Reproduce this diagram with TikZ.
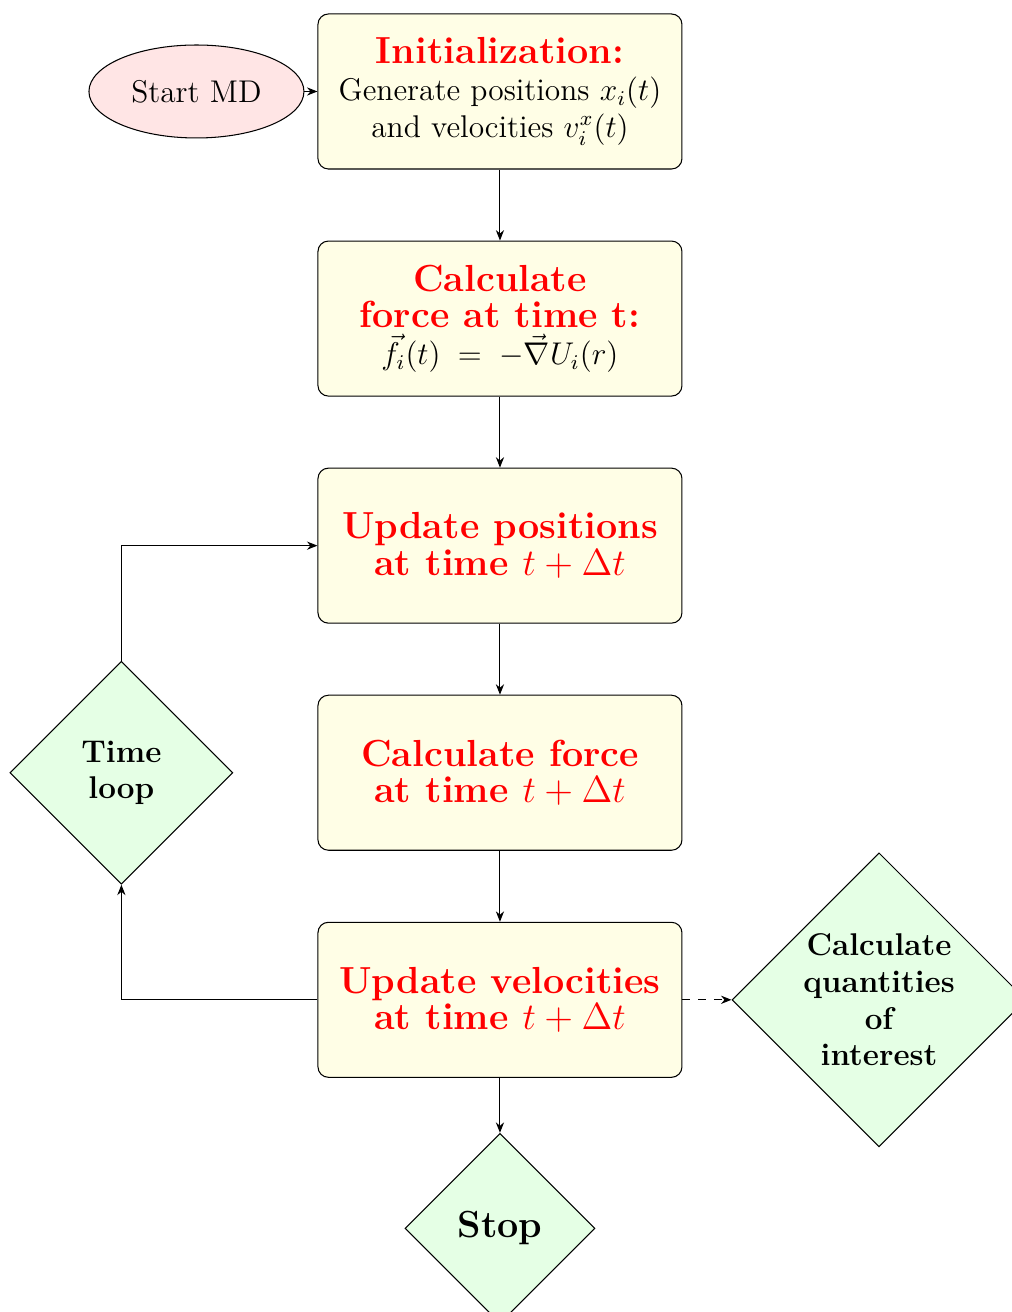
\documentclass[tikz,border=0pt]{standalone}
\usepackage{amsmath}
\usepackage{tikz}
\usetikzlibrary{arrows.meta,positioning,shapes.geometric}

\newcommand{\steptitle}[1]{{\Large\bfseries\color{red}#1}}

\begin{document}
\begin{tikzpicture}[
		node distance=0.953cm and 1.128cm,
		box/.style={draw, rounded corners=4pt, align=center, minimum width=4.886cm, minimum height=2.081cm, fill=yellow!10, font=\large},
		startnode/.style={draw, ellipse, fill=red!10, minimum width=2.886cm, minimum height=1.248cm, font=\large},
		decision/.style={draw, diamond, aspect=1, inner sep=0pt, align=center, fill=green!10, font=\large\bfseries},
		arrow/.style={-{Stealth[length=1.4mm, width=1.1mm]}}
	]
		\useasboundingbox (0,0) rectangle (13.584,-17.611);
		\node[box] (init) at (6.711,-1.228) {\steptitle{Initialization:}\\Generate positions $x_i(t)$\\and velocities $v_i^x(t)$};
		\node[startnode, left=0.174cm of init] (start) {Start MD};
		\node[box, below=of init] (force) {\steptitle{Calculate}\\\steptitle{force at time t:}\\$\vec{f}_i(t) \;=\; -\vec{\nabla}U_i(r)$};
		\node[box, below=of force] (updpos) {\steptitle{Update positions}\\\steptitle{at time $t+\Delta t$}};
		\node[box, below=of updpos] (newforce) {\steptitle{Calculate force}\\\steptitle{at time $t+\Delta t$}};
		\node[box, below=of newforce] (updvel) {\steptitle{Update velocities}\\\steptitle{at time $t+\Delta t$}};
		\node[decision, minimum size=2.993cm, left=of newforce] (tloop) {Time\\loop};
		\node[decision, minimum size=3.946cm, right=0.658cm of updvel] (quant) {Calculate\\quantities\\of\\interest};
		\node[decision, minimum size=2.55cm, font=\Large\bfseries, below=0.738cm of updvel] (stop) {Stop};
		\draw[arrow] (start) -- (init);
		\draw[arrow] (init) -- (force);
		\draw[arrow] (force) -- (updpos);
		\draw[arrow] (updpos) -- (newforce);
		\draw[arrow] (newforce) -- (updvel);
		\draw[arrow] (updvel) -- (stop);
		\draw[arrow] (updvel.west) -| (tloop.south);
		\draw[arrow] (tloop.north) |- (updpos.west);
		\draw[arrow, dashed] (updvel) -- (quant);
	\end{tikzpicture}
\end{document}
